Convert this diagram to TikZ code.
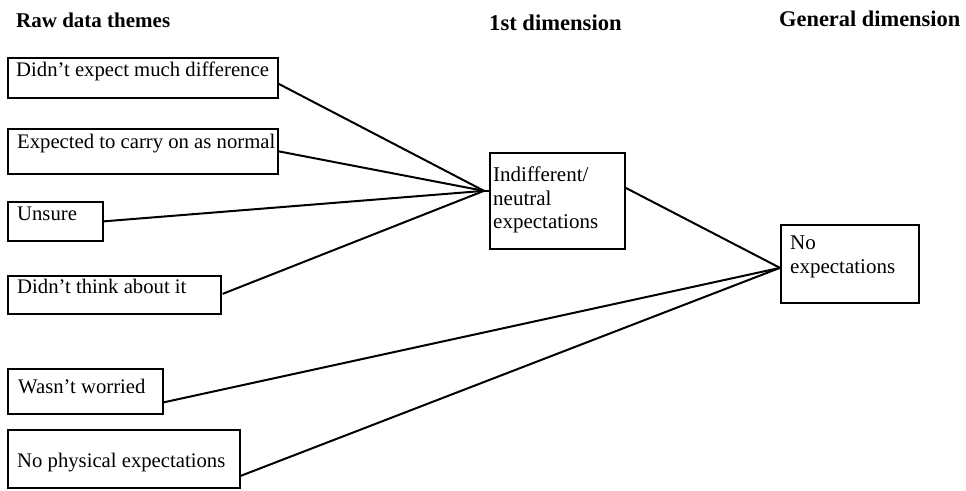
\documentclass[tikz,border=0pt]{standalone}
\usepackage{fontspec}
\setmainfont{Liberation Serif}
\usetikzlibrary{calc}
\begin{document}
\begin{tikzpicture}[x=1pt,y=-1pt,
  box/.style={draw=black,line width=1.7pt,rectangle,inner sep=0pt,anchor=north west},
  txt/.style={inner sep=0pt,anchor=base west,font=\fontsize{20.7}{23.5}\selectfont},
  mtxt/.style={inner sep=0pt,anchor=north west,align=left,font=\fontsize{21}{23.5}\selectfont},
  head/.style={inner sep=0pt,anchor=base west,font=\fontsize{21}{24}\selectfont\bfseries},
  link/.style={draw=black,line width=2pt}]
\useasboundingbox (0,0) rectangle (966,490);

% column headings
\node[head] (h1) at (16,27) {Raw data themes};
\node[head,font=\fontsize{22.6}{26}\selectfont\bfseries] (h2) at (489,30) {1st dimension};
\node[head,font=\fontsize{22.4}{26}\selectfont\bfseries] (h3) at (779,26) {General dimension};

% raw data theme boxes
\node[box,minimum width=270pt,minimum height=40pt] (r1) at (7,57) {};
\node[box,minimum width=270pt,minimum height=45pt] (r2) at (7,128) {};
\node[box,minimum width=95pt,minimum height=39pt] (r3) at (7,201) {};
\node[box,minimum width=213pt,minimum height=38pt] (r4) at (7,275) {};
\node[box,minimum width=155pt,minimum height=45pt] (r5) at (7,368) {};
\node[box,minimum width=232pt,minimum height=58pt] (r6) at (7,429) {};

\node[txt] (t1) at (16,76) {Didn’t expect much difference};
\node[txt] (t2) at (17,148) {Expected to carry on as normal};
\node[txt] (t3) at (17,220) {Unsure};
\node[txt] (t4) at (17,293) {Didn’t think about it};
\node[txt] (t5) at (18,393) {Wasn’t worried};
\node[txt] (t6) at (17,467) {No physical expectations};

% first dimension
\node[box,minimum width=135pt,minimum height=96pt] (mid) at (489,152) {};
\node[mtxt] (tm) at (493,167) {Indifferent/\\neutral\\expectations};

% general dimension
\node[box,minimum width=138pt,minimum height=78pt] (gen) at (780,224) {};
\node[mtxt] (tg) at (790,236) {No\\expectations};

% connectors
\coordinate (jm) at ($(mid.west)+(-5,-10)$);
\coordinate (jg) at ($(gen.west)+(0,4)$);
\draw[link] ($(r1.east)+(0,6)$) -- (jm);
\draw[link] (r2.east) -- (jm);
\draw[link] (r3.east) -- (jm);
\draw[link] ($(r4.east)+(1,-1)$) -- (jm);
\draw[link] (jm) -- ($(mid.west)+(0,-10)$);
\draw[link] ($(mid.east)+(0,-13)$) -- (jg);
\draw[link] ($(r5.east)+(0,11)$) -- (jg);
\draw[link] ($(r6.east)+(0,17)$) -- (jg);
\end{tikzpicture}
\end{document}
